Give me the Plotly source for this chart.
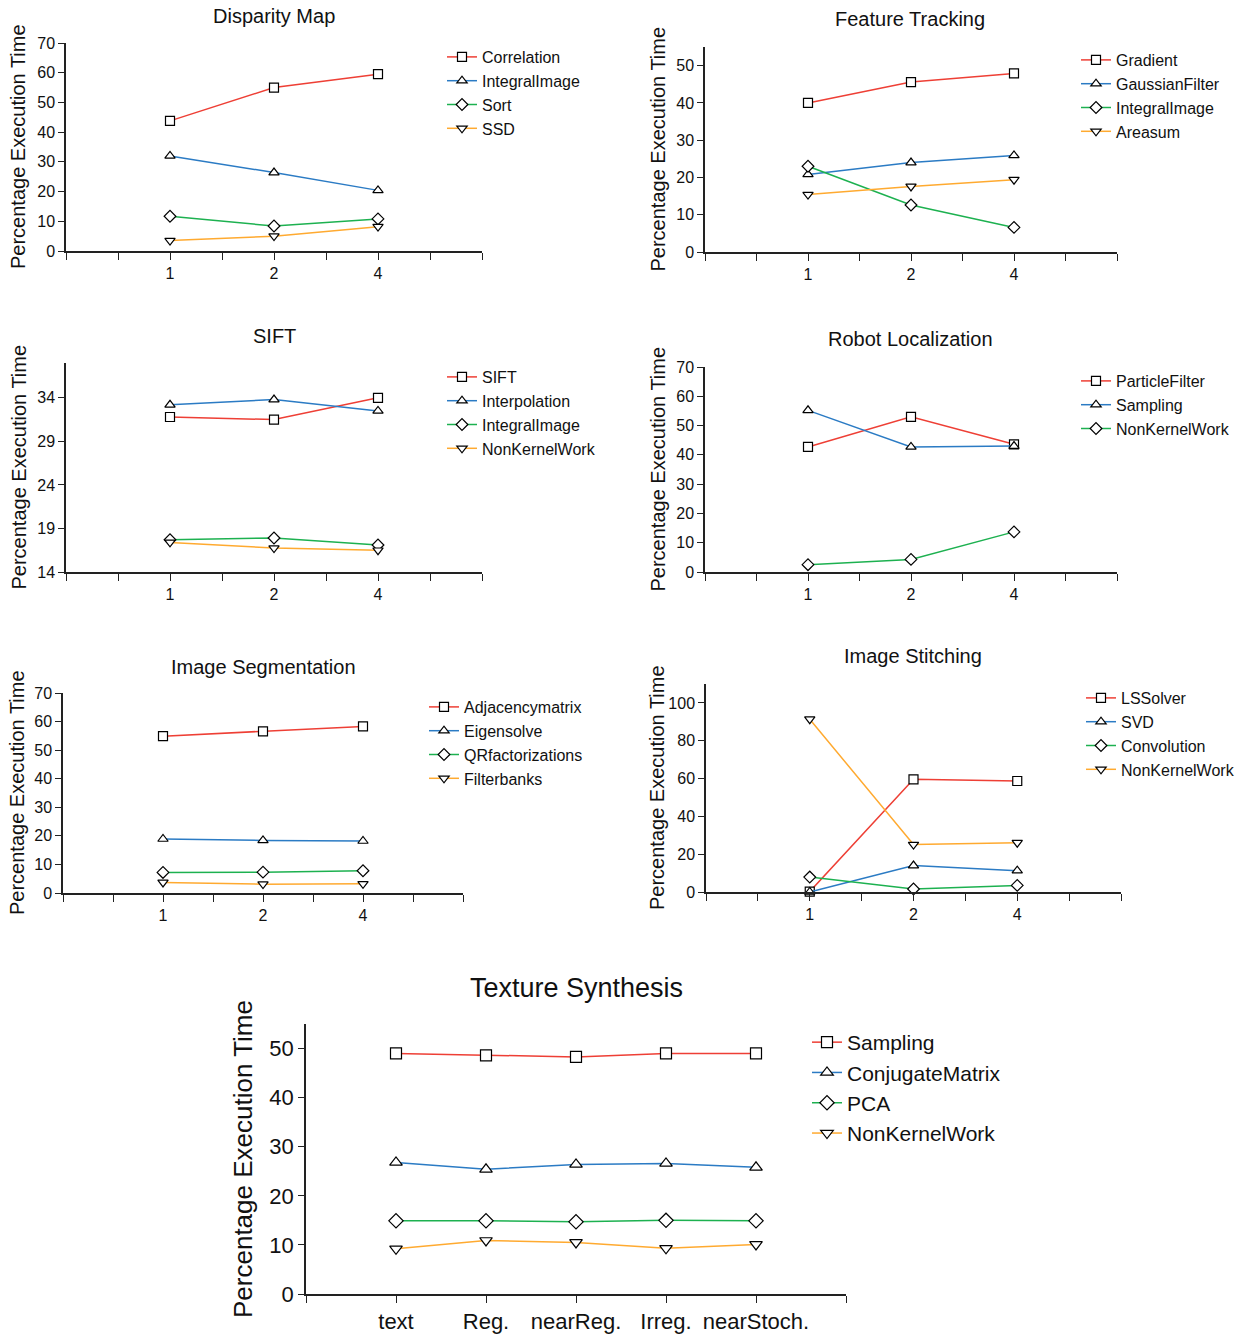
import plotly.graph_objects as go

# ---------------- data ----------------
threads = ["1", "2", "4"]

disparity_names = ["Correlation", "IntegralImage", "Sort", "SSD"]
disparity_correlation = [43.8, 55.0, 59.5]
disparity_integralimage = [32.0, 26.4, 20.4]
disparity_sort = [11.7, 8.4, 10.8]
disparity_ssd = [3.5, 5.0, 8.2]

tracking_names = ["Gradient", "GaussianFilter", "IntegralImage", "Areasum"]
tracking_gradient = [40.0, 45.6, 47.9]
tracking_gaussianfilter = [20.8, 24.0, 25.9]
tracking_integralimage = [23.0, 12.6, 6.6]
tracking_areasum = [15.4, 17.6, 19.4]

sift_names = ["SIFT", "Interpolation", "IntegralImage", "NonKernelWork"]
sift_sift = [31.8, 31.5, 34.0]
sift_interpolation = [33.2, 33.8, 32.5]
sift_integralimage = [17.7, 17.9, 17.1]
sift_nonkernelwork = [17.4, 16.75, 16.5]

robot_names = ["ParticleFilter", "Sampling", "NonKernelWork"]
robot_particlefilter = [42.7, 53.0, 43.6]
robot_sampling = [55.2, 42.7, 43.0]
robot_nonkernelwork = [2.5, 4.3, 13.7]

segmentation_names = ["Adjacencymatrix", "Eigensolve", "QRfactorizations", "Filterbanks"]
segmentation_adjacencymatrix = [54.9, 56.6, 58.3]
segmentation_eigensolve = [18.9, 18.4, 18.2]
segmentation_qrfactorizations = [7.2, 7.3, 7.8]
segmentation_filterbanks = [3.7, 3.1, 3.2]

stitching_names = ["LSSolver", "SVD", "Convolution", "NonKernelWork"]
stitching_lssolver = [0.2, 59.6, 58.7]
stitching_svd = [0.0, 14.0, 11.3]
stitching_convolution = [7.9, 1.6, 3.5]
stitching_nonkernelwork = [91.4, 25.1, 26.1]

texture_inputs = ["text", "Reg.", "nearReg.", "Irreg.", "nearStoch."]
texture_names = ["Sampling", "ConjugateMatrix", "PCA", "NonKernelWork"]
texture_sampling = [49.0, 48.6, 48.3, 49.0, 49.0]
texture_conjugatematrix = [26.8, 25.4, 26.4, 26.6, 25.8]
texture_pca = [14.9, 14.9, 14.7, 15.0, 14.9]
texture_nonkernelwork = [9.2, 10.9, 10.5, 9.3, 10.1]

# ---------------- style ----------------
W, H = 1253, 1336
FONT = "Liberation Sans, Arial, Helvetica, sans-serif"
COLORS = ["#EE3F35", "#2B7BC4", "#1DB150", "#FFAA30"]
SYMBOLS = ["square", "triangle-up", "diamond", "triangle-down"]


def xp(px):
    return px / W


def yp(py):
    return 1 - py / H


panels = [
    dict(title="Disparity Map", cats=threads, names=disparity_names,
         series=[disparity_correlation, disparity_integralimage, disparity_sort, disparity_ssd],
         xpx=(66, 482), ypx=(251, 43), yrange=(0, 70), dtick=10, tick0=0,
         title_xy=(274, 16), ytitle_x=18, leg=(442, 40), fs=16, tfs=20, yfs=20, lfs=16, gap=0, msize=9),
    dict(title="Feature Tracking", cats=threads, names=tracking_names,
         series=[tracking_gradient, tracking_gaussianfilter, tracking_integralimage, tracking_areasum],
         xpx=(705, 1117), ypx=(252, 47), yrange=(0, 55), dtick=10, tick0=0,
         title_xy=(910, 19), ytitle_x=657, leg=(1076, 43), fs=16, tfs=20, yfs=20, lfs=16, gap=0, msize=9),
    dict(title="SIFT", cats=threads, names=sift_names,
         series=[sift_sift, sift_interpolation, sift_integralimage, sift_nonkernelwork],
         xpx=(66, 482), ypx=(572, 363), yrange=(14, 38), dtick=5, tick0=14,
         title_xy=(274, 336), ytitle_x=18, leg=(442, 360), fs=16, tfs=20, yfs=20, lfs=16, gap=0, msize=9),
    dict(title="Robot Localization", cats=threads, names=robot_names,
         series=[robot_particlefilter, robot_sampling, robot_nonkernelwork],
         xpx=(705, 1117), ypx=(572, 367), yrange=(0, 70), dtick=10, tick0=0,
         title_xy=(910, 339), ytitle_x=657, leg=(1076, 364), fs=16, tfs=20, yfs=20, lfs=16, gap=0, msize=9),
    dict(title="Image Segmentation", cats=threads, names=segmentation_names,
         series=[segmentation_adjacencymatrix, segmentation_eigensolve,
                 segmentation_qrfactorizations, segmentation_filterbanks],
         xpx=(63, 463), ypx=(893, 693), yrange=(0, 70), dtick=10, tick0=0,
         title_xy=(263, 667), ytitle_x=17, leg=(424, 690), fs=16, tfs=20, yfs=20, lfs=16, gap=0, msize=9),
    dict(title="Image Stitching", cats=threads, names=stitching_names,
         series=[stitching_lssolver, stitching_svd, stitching_convolution, stitching_nonkernelwork],
         xpx=(706, 1121), ypx=(892, 684), yrange=(0, 110), dtick=20, tick0=0,
         title_xy=(913, 656), ytitle_x=657, leg=(1081, 681), fs=16, tfs=20, yfs=20, lfs=16, gap=0, msize=9),
    dict(title="Texture Synthesis", cats=texture_inputs, names=texture_names,
         series=[texture_sampling, texture_conjugatematrix, texture_pca, texture_nonkernelwork],
         xpx=(306, 846), ypx=(1294, 1024), yrange=(0, 55), dtick=10, tick0=0,
         title_xy=(576, 988), ytitle_x=243, leg=(807, 1022), fs=22, tfs=27, yfs=26, lfs=21, gap=0, msize=11),
]

fig = go.Figure()
annotations = []
layout = {}

for i, p in enumerate(panels, start=1):
    xs = list(range(len(p["cats"])))
    suffix = "" if i == 1 else str(i)
    legname = "legend" + suffix
    for j, (name, vals) in enumerate(zip(p["names"], p["series"])):
        fig.add_trace(go.Scatter(
            x=xs, y=vals, name=name, mode="lines+markers",
            xaxis="x" + suffix, yaxis="y" + suffix,
            legend=legname, legendgroup=f"p{i}s{j}",
            line=dict(color=COLORS[j], width=1.5),
            marker=dict(symbol=SYMBOLS[j], size=p["msize"], color="white",
                        line=dict(color="black", width=1.2)),
            cliponaxis=False,
        ))

    n = len(p["cats"])
    if n == 3:
        tickvals = [k * 0.5 for k in range(-2, 2 * n + 1)]
    else:
        tickvals = list(range(-1, n + 1))
    xrange = [-1, n]
    ticktext = [p["cats"][int(v)] if (0 <= v < n and float(v).is_integer()) else "" for v in tickvals]

    layout["xaxis" + suffix] = dict(
        domain=[xp(p["xpx"][0]), xp(p["xpx"][1])],
        anchor="y" + suffix, range=xrange,
        tickmode="array", tickvals=tickvals, ticktext=ticktext,
        showline=True, linecolor="#222", linewidth=1.5,
        ticks="outside", ticklen=7, tickwidth=1.2, tickcolor="#222",
        showgrid=False, zeroline=False, automargin=False,
        tickfont=dict(family=FONT, size=p["fs"], color="#111"),
    )
    layout["yaxis" + suffix] = dict(
        domain=[yp(p["ypx"][0]), yp(p["ypx"][1])],
        anchor="x" + suffix, range=list(p["yrange"]),
        tick0=p["tick0"], dtick=p["dtick"],
        showline=True, linecolor="#222", linewidth=1.5,
        ticks="outside", ticklen=6, tickwidth=1.2, tickcolor="#222",
        showgrid=False, zeroline=False, automargin=False,
        tickfont=dict(family=FONT, size=p["fs"], color="#111"),
    )
    layout[legname] = dict(
        x=xp(p["leg"][0]), y=yp(p["leg"][1]), xanchor="left", yanchor="top",
        xref="paper", yref="paper",
        font=dict(family=FONT, size=p["lfs"], color="#111"),
        bgcolor="rgba(0,0,0,0)", traceorder="grouped", tracegroupgap=p["gap"],
        itemwidth=30,
    )
    annotations.append(dict(
        text=p["title"], x=xp(p["title_xy"][0]), y=yp(p["title_xy"][1]),
        xref="paper", yref="paper", xanchor="center", yanchor="middle",
        showarrow=False, font=dict(family=FONT, size=p["tfs"], color="#111"),
    ))
    ycenter = (p["ypx"][0] + p["ypx"][1]) / 2
    annotations.append(dict(
        text="Percentage Execution Time", x=xp(p["ytitle_x"]), y=yp(ycenter),
        xref="paper", yref="paper", xanchor="center", yanchor="middle",
        textangle=-90, showarrow=False,
        font=dict(family=FONT, size=p["yfs"], color="#111"),
    ))

fig.update_layout(
    width=W, height=H,
    margin=dict(l=0, r=0, t=0, b=0, pad=0, autoexpand=False),
    paper_bgcolor="white", plot_bgcolor="white",
    font=dict(family=FONT, color="#111"),
    annotations=annotations,
    showlegend=True,
    **layout,
)

fig.write_html("out.html",
               config={"displayModeBar": False},
               post_script="document.body.style.margin='0';document.body.style.padding='0';")
